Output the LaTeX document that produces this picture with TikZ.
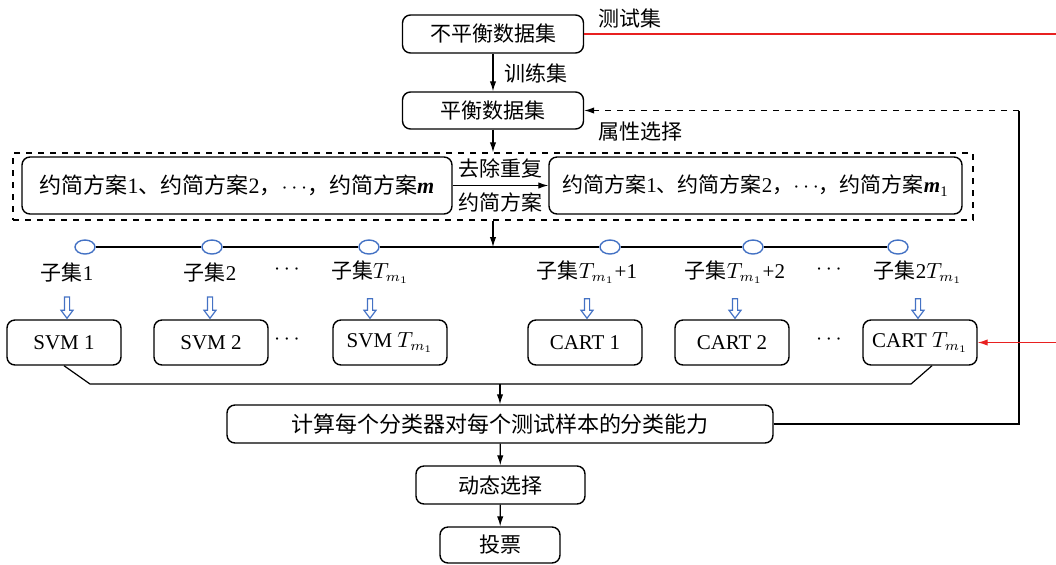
\documentclass[tikz,border=0pt]{standalone}
\usepackage{fontspec}
\setmainfont{Liberation Serif}
\newfontfamily\cjk{Noto Sans CJK SC}
\usepackage{xcolor}
\usepackage{tikz}
\usetikzlibrary{arrows.meta}
\usetikzlibrary{shapes.geometric}

\definecolor{setblue}{RGB}{68,114,196}
\definecolor{testred}{RGB}{232,32,32}

\begin{document}
\begin{tikzpicture}[x=0.5pt, y=-0.5pt, line width=0.6pt, font=\cjk\fontsize{10.5pt}{12pt}\selectfont, >={Latex[length=5pt,width=3.2pt]}, box/.style={draw, rounded corners=4pt, line width=0.7pt, minimum height=19pt, inner sep=0pt}, model/.style={box, font=\rmfamily\fontsize{10.5pt}{12pt}\selectfont, minimum width=57pt, minimum height=22.5pt}, ring/.style={ellipse, draw=setblue, fill=white, line width=0.7pt, minimum width=10pt, minimum height=7pt, inner sep=0pt}, hollow/.style={draw=setblue, line width=0.6pt, line join=miter}]
  \useasboundingbox (0,0) rectangle (1056,564);
  \node[box, minimum width=90.5pt] (unbal) at (493,34) {不平衡数据集};
  \node[box, minimum width=90.5pt, minimum height=18.5pt] (bal) at (493,110.5) {平衡数据集};
  \node[draw, dashed, line width=0.7pt, minimum width=480pt, minimum height=33.5pt, inner sep=0pt] (attr) at (493,186.5) {};
  \node[box, minimum width=215pt, minimum height=28.5pt, font=\cjk\fontsize{11pt}{12pt}\selectfont] (plan) at (237,185.5) {约简方案{\rmfamily 1}、约简方案{\rmfamily 2}，$\cdots$，约简方案{\rmfamily\bfseries\itshape m}};
  \node[box, minimum width=206.5pt, minimum height=28.5pt, font=\cjk\fontsize{10.5pt}{12pt}\selectfont] (uplan) at (755.5,185.5) {约简方案{\rmfamily 1}、约简方案{\rmfamily 2}，$\cdots$，约简方案{\rmfamily\bfseries\itshape m}\textsubscript{\rmfamily 1}};
  \node at (630,18) {测试集};
  \node at (536,73) {训练集};
  \node at (640,132) {属性选择};
  \draw[->] (unbal) -- (bal);
  \draw[->] (bal) -- (attr);
  \draw[->] (plan) -- (uplan) node[midway, above] {去除重复} node[midway, below] {约简方案};
  \foreach \x/\n in {85/1, 212/2, 369/3, 610/4, 753/5, 898/6}
    \node[ring] (r\n) at (\x,247) {};
  \foreach \a/\b in {1/2, 2/3, 3/4, 4/5, 5/6}
    \draw (r\a) -- (r\b);
  \draw[->] (attr.south) -- (attr.south |- r1);
  \node (s1) at (67,272) {子集{\rmfamily 1}};
  \node (s2) at (210,272) {子集{\rmfamily 2}};
  \node (s3) at (370,272) {子集$T_{m_1}$};
  \node (s4) at (587,272) {子集$T_{m_1}${\rmfamily +1}};
  \node (s5) at (735,272) {子集$T_{m_1}${\rmfamily +2}};
  \node (s6) at (918,272) {子集{\rmfamily 2}$T_{m_1}$};
  \node at (287,270) {$\cdots$};
  \node at (829,270) {$\cdots$};
  \node[model] (svm1) at (64,342.5) {SVM 1};
  \node[model] (svm2) at (211,342.5) {SVM 2};
  \node[model] (svm3) at (390,342.5) {SVM $T_{m_1}$};
  \node[model] (cart1) at (585,342.5) {CART 1};
  \node[model] (cart2) at (732,342.5) {CART 2};
  \node[model] (cart3) at (920,342.5) {CART $T_{m_1}$};
  \node at (287,340) {$\cdots$};
  \node at (829,340) {$\cdots$};
  \foreach \i/\m in {1/svm1, 2/svm2, 3/svm3, 4/cart1, 5/cart2, 6/cart3} {
    \coordinate (ha) at ([yshift=-4pt]s\i.south);
    \coordinate (hb) at ([yshift=0.5pt]s\i.south |- \m.north);
    \draw[hollow] ([xshift=-1.3pt]ha) -- ([xshift=-1.3pt, yshift=4pt]hb) -- ([xshift=-3pt, yshift=4pt]hb) -- (hb)
      -- ([xshift=3pt, yshift=4pt]hb) -- ([xshift=1.3pt, yshift=4pt]hb) -- ([xshift=1.3pt]ha) -- cycle;
  }
  \node[box, minimum width=273pt, font=\cjk\fontsize{11pt}{12pt}\selectfont] (calc) at (500,424) {计算每个分类器对每个测试样本的分类能力};
  \node[box, minimum width=84.5pt] (dyn) at (500.5,485) {动态选择};
  \node[box, minimum width=60pt, minimum height=18pt] (vote) at (500,545) {投票};
  \coordinate (mL) at (90,384);
  \coordinate (mR) at (911,384);
  \draw (svm1.south) -- (mL) -- (mR) -- ([xshift=6pt]cart3.south);
  \draw[->] (calc.north |- mL) -- (calc.north);
  \draw[->] (calc) -- (dyn);
  \draw[->] (dyn) -- (vote);
  \coordinate (fb) at (1019,110.5);
  \draw (calc.east) -| (fb);
  \draw[dashed, ->] (fb) -- (bal.east);
  \coordinate (tsA) at (1056,34);
  \coordinate (tsB) at (1056,342.5);
  \draw[testred] (unbal.east) -- (tsA);
  \draw[testred, ->] (tsB) -- (cart3.east);
\end{tikzpicture}
\end{document}
